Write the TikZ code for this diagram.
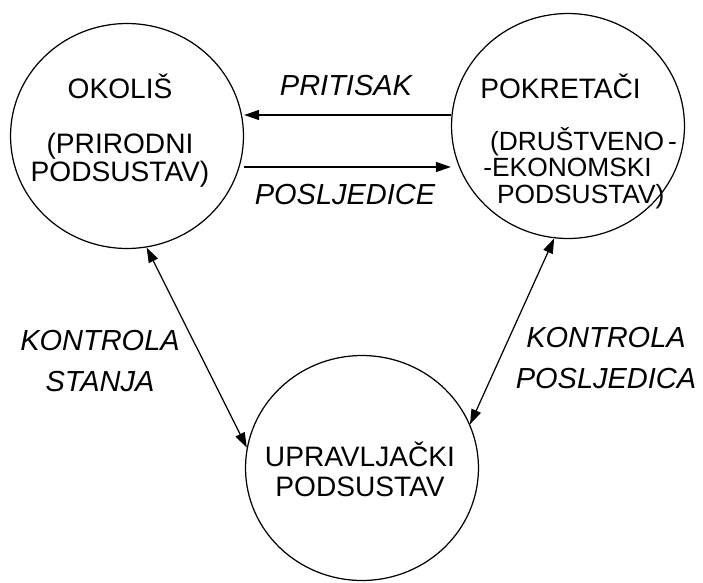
\documentclass[tikz,border=0pt]{standalone}
\usepackage{fontspec}
\setmainfont{Liberation Sans}
\usetikzlibrary{arrows, arrows.meta}
\usetikzlibrary{shapes.geometric}

\begin{document}
\begin{tikzpicture}[x=0.02cm, y=-0.02cm,
    >={Triangle[length=3mm, width=2mm]},
    subsystem/.style={ellipse, draw, line width=0.7pt, inner sep=0pt, minimum width=4.66cm, minimum height=4.5cm},
    caption/.style={font=\fontsize{16}{13}\selectfont, inner sep=0pt},
    flow/.style={font=\fontsize{16.5}{23.8}\selectfont\itshape, inner sep=0pt, align=center},
    link/.style={line width=0.7pt}]
    \useasboundingbox (0,0) rectangle (703,582);

    \node[subsystem] (okolis) at (127,136) {};
    \node[subsystem] (pokretaci) at (568,126) {};
    \node[subsystem] (upravljacki) at (362,468) {};

    \node[caption, align=center] (okolistxt) at (120,130.5) {OKOLIŠ\\[18.2pt](PRIRODNI\\PODSUSTAV)};
    \node[caption, align=left, anchor=west, font=\fontsize{15}{15}\selectfont] (pokretacitxt) at (480,141.5)
      {{\fontsize{16}{15}\selectfont POKRETAČI}\\[14.5pt]\hspace*{5.5pt}(DRUŠTVENO\hspace{0.15em}-\\\hspace*{1.7pt}-EKONOMSKI\\\hspace*{9.5pt}PODSUSTAV)};
    \node[caption, align=center, font=\fontsize{16}{17}\selectfont] (upravljackitxt) at (360,469.5) {UPRAVLJAČKI\\PODSUSTAV};

    \draw[link, <-] (okolis.east |- 0,115) -- (pokretaci.west |- 0,115);
    \draw[link, ->] (okolis.east |- 0,167) -- (pokretaci.west |- 0,167);
    \draw[link, <->] (okolis.-80) -- (upravljacki.170);
    \draw[link, <->] (pokretaci.-97) -- (upravljacki.22);

    \node[flow] (pritisak) at (346,86) {PRITISAK};
    \node[flow] (posljedice) at (345,195) {POSLJEDICE};
    \node[flow] (stanja) at (100,361) {KONTROLA\\STANJA};
    \node[flow] (posljedica) at (606,358) {KONTROLA\\POSLJEDICA};
  \end{tikzpicture}
\end{document}
